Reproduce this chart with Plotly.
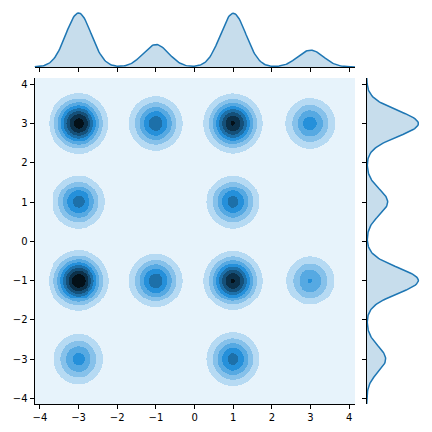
import colorsys

import numpy as np
import plotly.graph_objects as go

# cluster centres and how many points sit at each one
pt_x = [-3, -1, 1, 3, -3, 1, -3, -1, 1, 3, -3, 1]
pt_y = [3, 3, 3, 3, 1, 1, -1, -1, -1, -1, -3, -3]
pt_n = [105, 70, 100, 55, 67, 67, 110, 70, 100, 50, 54, 67]

tick_vals = [-4, -3, -2, -1, 0, 1, 2, 3, 4]
x_range = [-4.14, 4.15]
y_range = [-4.145, 4.16]

bw_joint = 0.37   # kernel width of the 2d kde
bw_marg = 0.33    # kernel width of the marginal kdes
n_bands = 9
base = "#1f77b4"

px = np.array(pt_x, float)
py = np.array(pt_y, float)
pn = np.array(pt_n, float)
pw = pn / pn.sum()

# 2d kde on a grid
gx = np.linspace(x_range[0], x_range[1], 330)
gy = np.linspace(y_range[0], y_range[1], 330)
GX, GY = np.meshgrid(gx, gy)
dens = np.zeros_like(GX)
for cx, cy, w in zip(px, py, pw):
    dens += w * np.exp(-((GX - cx) ** 2 + (GY - cy) ** 2) / (2 * bw_joint ** 2))
dens /= 2 * np.pi * bw_joint ** 2
step = dens.max() / (n_bands - 0.1)
band = np.clip(np.floor(dens / step), 0, n_bands - 1)

# colormap: base colour blended from white to black (hls lightness)
r, g, b = [int(base[i:i + 2], 16) / 255 for i in (1, 3, 5)]
h, l0, s = colorsys.rgb_to_hls(r, g, b)
band_cols = []
for i in range(n_bands):
    t = (i + 0.5) / n_bands
    rr, gg, bb = colorsys.hls_to_rgb(h, 1 - t, s)
    band_cols.append(f"rgb({rr*255:.0f},{gg*255:.0f},{bb*255:.0f})")
cscale = []
for i, c in enumerate(band_cols):
    cscale.append([i / n_bands, c])
    cscale.append([(i + 1) / n_bands, c])


def kde1d(grid, centres, weights, bw):
    out = np.zeros_like(grid)
    for c, w in zip(centres, weights):
        out += w * np.exp(-(grid - c) ** 2 / (2 * bw ** 2))
    return out / (np.sqrt(2 * np.pi) * bw)


mx = kde1d(gx, px, pw, bw_marg)
my = kde1d(gy, py, pw, bw_marg)

fig = go.Figure()
fig.add_trace(go.Heatmap(
    x=gx, y=gy, z=band, zmin=-0.5, zmax=n_bands - 0.5,
    colorscale=cscale, showscale=False, zsmooth=False, hoverinfo="skip",
    xaxis="x", yaxis="y",
))
fig.add_trace(go.Scatter(
    x=gx, y=mx, mode="lines", fill="tozeroy",
    fillcolor="rgba(31,119,180,0.25)", line=dict(color=base, width=1.5),
    xaxis="x2", yaxis="y2", showlegend=False,
))
fig.add_trace(go.Scatter(
    x=my, y=gy, mode="lines", fill="tozerox",
    fillcolor="rgba(31,119,180,0.25)", line=dict(color=base, width=1.5),
    xaxis="x3", yaxis="y3", showlegend=False,
))

font = dict(family="DejaVu Sans", size=10, color="black")
axis_common = dict(showgrid=False, zeroline=False, showline=True,
                   linecolor="black", linewidth=1, ticks="outside",
                   ticklen=4, tickwidth=1, tickcolor="black",
                   tickvals=tick_vals, tickfont=font, automargin=False)

fig.update_layout(
    width=432, height=432,
    margin=dict(l=0, r=0, t=0, b=0, autoexpand=False),
    paper_bgcolor="white", plot_bgcolor="white",
    showlegend=False,
    xaxis=dict(domain=[0.0799, 0.8218], range=x_range, anchor="y", **axis_common),
    yaxis=dict(domain=[0.0648, 0.8194], range=y_range, anchor="x", **axis_common),
    xaxis2=dict(domain=[0.0799, 0.8218], range=x_range, anchor="y2",
                showticklabels=False, **axis_common),
    yaxis2=dict(domain=[0.845, 0.976], range=[0, mx.max() * 1.05],
                anchor="x2", visible=False),
    xaxis3=dict(domain=[0.8488, 0.9745], range=[0, my.max() * 1.05],
                anchor="y3", visible=False),
    yaxis3=dict(domain=[0.0648, 0.8194], range=y_range, anchor="x3",
                showticklabels=False, **axis_common),
)

# drop the browser's default page margin so the figure sits at (0, 0)
fig.write_html("out.html", config={"displayModeBar": False},
               post_script="document.body.style.margin='0';")
